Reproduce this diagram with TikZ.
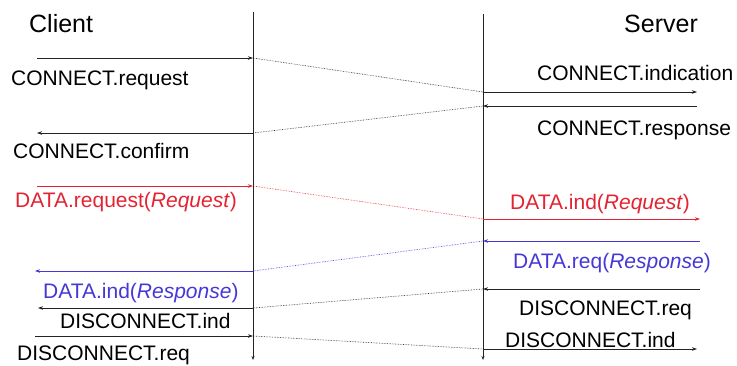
\documentclass[tikz,border=0pt]{standalone}
\usepackage{fontspec}
\setmainfont{Liberation Sans}
\usetikzlibrary{arrows.meta}
\definecolor{myred}{RGB}{228,35,50}
\definecolor{myblue}{RGB}{70,55,215}
\definecolor{lineblk}{RGB}{35,35,35}
\begin{document}
\begin{tikzpicture}[x=1pt,y=-1pt,
  lbl/.style={font=\fontsize{21}{21}\selectfont, inner sep=0pt, anchor=base west},
  hdr/.style={font=\fontsize{25}{25}\selectfont, inner sep=0pt, anchor=base west},
  msg/.style={line width=0.8pt, draw=lineblk, -{Stealth[length=5pt,width=3.5pt]}},
  hop/.style={densely dotted, line width=0.6pt, draw=lineblk},
  life/.style={line width=0.9pt, draw=lineblk, -{Stealth[length=4pt,width=3pt]}}]
\useasboundingbox (0,0) rectangle (737,365);
\clip (0,0) rectangle (737,365);
\fill[white] (0,0) rectangle (737,365);

% lifelines
\coordinate (ctop) at (253,12);
\coordinate (cbot) at (253,360);
\coordinate (stop) at (483,14);
\coordinate (sbot) at (483,360);
\draw[life] (ctop) -- (cbot);
\draw[life] (stop) -- (sbot);

% headers
\node[hdr] (client) at (29,32) {Client};
\node[hdr] (server) at (624,32) {Server};

% CONNECT request / indication
\coordinate (c1a) at (37,58);
\coordinate (c1b) at (253,58);
\coordinate (s1a) at (483,92);
\coordinate (s1b) at (697,92);
\draw[msg] (c1a) -- (c1b);
\draw[hop] (c1b) -- (s1a);
\draw[msg] (s1a) -- (s1b);
\node[lbl] (creq) at (11,85) {CONNECT.request};
\node[lbl] (cind) at (537,80) {CONNECT.indication};

% CONNECT response / confirm
\coordinate (s2a) at (697,106);
\coordinate (s2b) at (483,106);
\coordinate (c2a) at (253,133);
\coordinate (c2b) at (37,133);
\draw[msg] (s2a) -- (s2b);
\draw[hop] (s2b) -- (c2a);
\draw[msg] (c2a) -- (c2b);
\node[lbl] (cresp) at (537,135) {CONNECT.response};
\node[lbl] (cconf) at (13,158) {CONNECT.confirm};

% DATA request (red)
\coordinate (c3a) at (37,186);
\coordinate (c3b) at (253,186);
\coordinate (s3a) at (483,219);
\coordinate (s3b) at (700,219);
\draw[msg,draw=myred] (c3a) -- (c3b);
\draw[hop,draw=myred] (c3b) -- (s3a);
\draw[msg,draw=myred] (s3a) -- (s3b);
\node[lbl,text=myred] (dreq) at (15,207) {DATA.request(\textit{Request})};
\node[lbl,text=myred] (dind) at (510,209) {DATA.ind(\textit{Request})};

% DATA response (blue)
\coordinate (s4a) at (700,241);
\coordinate (s4b) at (483,241);
\coordinate (c4a) at (253,271);
\coordinate (c4b) at (35,271);
\draw[msg,draw=myblue] (s4a) -- (s4b);
\draw[hop,draw=myblue] (s4b) -- (c4a);
\draw[msg,draw=myblue] (c4a) -- (c4b);
\node[lbl,text=myblue] (drsp) at (513,268) {DATA.req(\textit{Response})};
\node[lbl,text=myblue] (dirsp) at (43,298) {DATA.ind(\textit{Response})};

% DISCONNECT from server
\coordinate (s5a) at (700,289);
\coordinate (s5b) at (483,289);
\coordinate (c5a) at (253,308);
\coordinate (c5b) at (38,308);
\draw[msg] (s5a) -- (s5b);
\draw[hop] (s5b) -- (c5a);
\draw[msg] (c5a) -- (c5b);
\node[lbl] (sdreq) at (519,315) {DISCONNECT.req};
\node[lbl] (cdind) at (60,328) {DISCONNECT.ind};

% DISCONNECT from client
\coordinate (c6a) at (35,336);
\coordinate (c6b) at (253,336);
\coordinate (s6a) at (483,349);
\coordinate (s6b) at (697,349);
\draw[msg] (c6a) -- (c6b);
\draw[hop] (c6b) -- (s6a);
\draw[msg] (s6a) -- (s6b);
\node[lbl] (cdreq) at (17,360) {DISCONNECT.req};
\node[lbl] (sdind) at (505,347) {DISCONNECT.ind};
\end{tikzpicture}
\end{document}
